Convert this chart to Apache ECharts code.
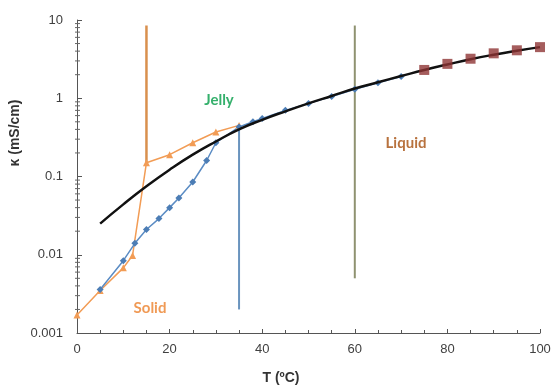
<!DOCTYPE html>
<html>
<head>
<meta charset="utf-8">
<script src="https://cdn.jsdelivr.net/npm/echarts@6/dist/echarts.min.js"></script>
<style>html,body{margin:0;padding:0;background:#fff}#c{width:558px;height:390px}</style>
</head>
<body>
<div id="c"></div>
<script>
// Fit curve (black)
const fitT = [5,10,15,20,25,30,35,40,45,50,55,60,65,70,75,80,85,90,95,100];
const fitK = [0.025,0.044,0.075,0.122,0.19,0.28,0.4,0.53,0.68,0.86,1.07,1.33,1.6,1.92,2.3,2.7,3.15,3.6,4.05,4.5];
// Orange series (triangles)
const orangeT = [0,5,10,12,15,20,25,30,35];
const orangeK = [0.0017,0.0035,0.0068,0.0098,0.15,0.19,0.27,0.37,0.45];
// Blue series (diamonds)
const blueT = [5,10,12.5,15,17.7,20,22,25,28,30,35,38,40,45,50,55,60,65,70];
const blueK = [0.0036,0.0084,0.014,0.021,0.029,0.04,0.053,0.085,0.16,0.27,0.43,0.5,0.55,0.7,0.86,1.05,1.3,1.58,1.9];
// Liquid data (squares)
const sqT = [75,80,85,90,95,100];
const sqK = [2.3,2.75,3.2,3.75,4.1,4.5];
// Vertical phase lines
const vOrange = {t:15, from:0.15, to:8.5};
const vBlue = {t:35, from:0.002, to:0.45};
const vOlive = {t:60, from:0.005, to:8.5};
const yTicks = ['0.001','0.01','0.1','1','10'];
// log minor tick values on the y axis
const minorVals = [];
[0.001,0.01,0.1,1].forEach(d=>{for(let m=2;m<=9;m++) minorVals.push(+(d*m).toPrecision(3));});

const zip = (a,b)=>a.map((v,i)=>[v,b[i]]);
const chart = echarts.init(document.getElementById('c'));
const axisFont = {fontFamily:'Liberation Sans, Arial, sans-serif', fontSize:13, color:'#404040'};
chart.setOption({
  animation:false,
  backgroundColor:'#fff',
  grid:{left:77,right:18,top:20,bottom:57},
  xAxis:{type:'value',min:0,max:100,interval:20,
    axisLine:{lineStyle:{color:'#555',width:1}},
    axisTick:{inside:true,length:4,lineStyle:{color:'#555'}},
    minorTick:{show:true,splitNumber:4,length:3,lineStyle:{color:'#555'}},
    splitLine:{show:false},
    axisLabel:Object.assign({margin:10},axisFont)},
  yAxis:{type:'log',min:0.001,max:10,logBase:10,
    axisLine:{show:true,lineStyle:{color:'#555',width:1}},
    axisTick:{show:true,length:5,inside:true,lineStyle:{color:'#555'}},
    splitLine:{show:false},
    axisLabel:Object.assign({margin:14,formatter:v=>{
      const i=Math.round(Math.log10(v))+3; return yTicks[i]||'';}},axisFont)},
  series:[
    {type:'custom',data:minorVals.map(v=>[0,v]),silent:true,z:1,
      renderItem:(params,api)=>{
        const p=api.coord([0,api.value(1)]);
        return {type:'line',shape:{x1:p[0]-2,y1:p[1],x2:p[0]+3,y2:p[1]},style:{stroke:'#666',lineWidth:1}};
      }},
    {type:'line',data:zip([vOrange.t,vOrange.t],[vOrange.from,vOrange.to]),symbol:'none',
      lineStyle:{color:'#D9904E',width:2.5},z:2},
    {type:'line',data:zip([vBlue.t,vBlue.t],[vBlue.from,vBlue.to]),symbol:'none',
      lineStyle:{color:'#6A94BE',width:2},z:2},
    {type:'line',data:zip([vOlive.t,vOlive.t],[vOlive.from,vOlive.to]),symbol:'none',
      lineStyle:{color:'#8F9270',width:2},z:2},
    {type:'line',data:zip(orangeT,orangeK),symbol:'triangle',symbolSize:7,
      itemStyle:{color:'#F29C55'},lineStyle:{color:'#F29C55',width:1.5},z:3},
    {type:'line',data:zip(blueT,blueK),symbol:'diamond',symbolSize:7,
      itemStyle:{color:'#4C7DB5'},lineStyle:{color:'#5B8CC4',width:1.5},z:3},
    {type:'line',data:zip(fitT,fitK),symbol:'none',smooth:true,
      lineStyle:{color:'#111',width:2.5},z:4},
    {type:'scatter',data:zip(sqT,sqK),symbol:'rect',symbolSize:10,
      itemStyle:{color:'#8E3434'},z:5}
  ],
  graphic:[
    {type:'text',x:15,y:133,rotation:Math.PI/2,style:{text:'κ (mS/cm)',font:'bold 14px Liberation Sans, Arial, sans-serif',fill:'#333',align:'center',verticalAlign:'middle'}},
    {type:'text',x:281,y:378,style:{text:'T (ºC)',font:'bold 14px Liberation Sans, Arial, sans-serif',fill:'#333',align:'center',verticalAlign:'middle'}},
    {type:'text',x:219,y:100,style:{text:'Jelly',font:'bold 15px Lato, sans-serif',fill:'#35B06C',align:'center',verticalAlign:'middle'}},
    {type:'text',x:406,y:143,style:{text:'Liquid',font:'bold 15px Lato, sans-serif',fill:'#B8723E',align:'center',verticalAlign:'middle'}},
    {type:'text',x:150,y:308,style:{text:'Solid',font:'bold 15px Lato, sans-serif',fill:'#F09A55',align:'center',verticalAlign:'middle'}}
  ]
});
</script>
</body>
</html>
